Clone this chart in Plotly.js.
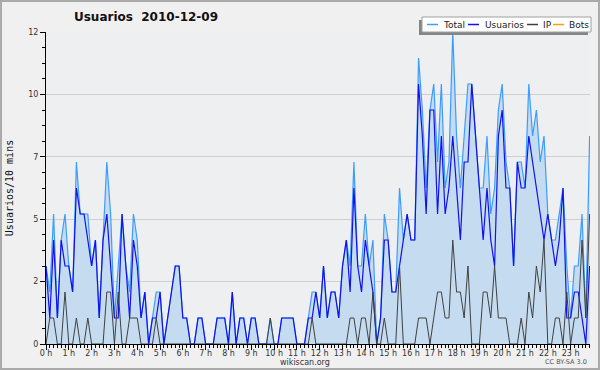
<!DOCTYPE html>
<html><head><meta charset="utf-8">
<script src="https://cdn.plot.ly/plotly-3.0.1.min.js"></script>
<style>html,body{margin:0;padding:0;background:#f0f0f0}#chart{width:600px;height:370px}</style>
</head><body><div id="chart"></div>
<script>
// 10-minute slots, 2010-12-09
const usuarios = [3,1,4,1,4,3,3,2,6,5,5,4,3,4,1,4,5,3,1,1,5,3,1,4,3,1,2,0,1,1,2,0,1,2,3,3,1,1,0,0,1,1,0,0,0,1,1,1,0,2,0,1,1,0,1,1,0,0,0,0,0,0,1,1,1,1,0,0,0,1,1,2,1,3,1,2,2,1,3,4,2,6,3,2,4,3,2,0,1,4,4,2,2,3,4,5,4,4,10,8,5,9,9,5,8,5,6,8,6,4,7,7,10,8,6,4,6,4,3,8,9,6,6,3,7,6,6,8,7,6,5,4,5,4,3,4,6,1,1,2,2,1,0,3];
const ip = [0,1,1,0,0,2,0,0,1,0,0,1,0,0,0,0,2,2,0,2,0,0,1,1,1,0,0,0,0,1,0,0,0,0,0,0,0,0,0,0,0,0,0,0,0,0,0,0,0,0,0,0,0,0,0,0,0,0,0,1,0,0,0,0,0,0,0,0,0,0,1,0,0,0,0,0,0,0,0,0,1,1,0,1,1,0,2,0,0,1,0,0,0,3,0,0,0,0,1,1,1,0,1,2,2,1,1,4,2,2,1,3,0,0,0,2,2,1,3,1,1,1,0,0,0,1,0,2,1,3,2,4,0,0,1,1,0,2,0,1,1,4,1,5];
const total = [3,2,5,1,4,5,3,2,7,5,5,5,3,4,1,4,7,5,1,3,5,3,2,5,4,1,2,0,1,2,2,0,1,2,3,3,1,1,0,0,1,1,0,0,0,1,1,1,0,2,0,1,1,0,1,1,0,0,0,1,0,0,1,1,1,1,0,0,0,1,2,2,1,3,1,2,2,1,3,4,3,7,3,3,5,3,4,0,1,5,4,2,2,6,4,5,4,4,11,9,6,9,10,7,10,6,7,12,8,6,8,10,10,8,6,6,8,5,6,9,10,7,6,3,7,7,6,10,8,9,7,8,5,4,4,5,6,3,1,3,3,5,1,8];
const bots = [];
const hourLabels = ['0 h','1 h','2 h','3 h','4 h','5 h','6 h','7 h','8 h','9 h','10 h','11 h','12 h','13 h','14 h','15 h','16 h','17 h','18 h','19 h','20 h','21 h','22 h','23 h'];
const yTickVals = [0,2.4,4.8,7.2,9.6,12];
const yTickText = ['0','2','5','7','10','12'];
const seriesNames = ['Total','Usuarios','IP','Bots'];
const seriesColors = ['#3d9cff','#1010f0','#404040','#ffa200'];

const slots = usuarios.map((_, i) => i);
const hourTicks = hourLabels.map((_, k) => k * 6);

const W = 600, H = 370, L = 46, R = 10, T = 32, B = 26;
const pw = W - L - R, ph = H - T - B;
const px = x => (x - L) / pw;
const py = y => (H - B - y) / ph;

const FONT = 'DejaVu Sans, Verdana, sans-serif';

const traces = [
  {x: slots, y: total, name: seriesNames[0], type: 'scatter', mode: 'lines',
   line: {color: seriesColors[0], width: 1.2}, fill: 'tozeroy', fillcolor: '#c5dcf0'},
  {x: slots, y: usuarios, name: seriesNames[1], type: 'scatter', mode: 'lines',
   line: {color: seriesColors[1], width: 1.2}},
  {x: slots, y: ip, name: seriesNames[2], type: 'scatter', mode: 'lines',
   line: {color: seriesColors[2], width: 1}},
  {x: slots.slice(0, bots.length), y: bots, name: seriesNames[3], type: 'scatter', mode: 'lines',
   line: {color: seriesColors[3], width: 1}}
];

// custom compact legend
const legendShapes = [
  {type: 'rect', xref: 'paper', yref: 'paper', x0: px(419), x1: px(588), y0: py(20), y1: py(35),
   fillcolor: '#858585', line: {width: 0}, layer: 'above'},
  {type: 'rect', xref: 'paper', yref: 'paper', x0: px(422), x1: px(591), y0: py(17), y1: py(32),
   fillcolor: '#ffffff', line: {color: '#a0a0a0', width: 1}, layer: 'above'}
];
const legendItems = [[427, 441], [468, 483], [527, 541], [553, 567]];
const legendAnn = [];
legendItems.forEach(([sx, tx], k) => {
  legendShapes.push({type: 'line', xref: 'paper', yref: 'paper', x0: px(sx), x1: px(sx + 11),
    y0: py(24.5), y1: py(24.5), line: {color: seriesColors[k], width: 1.5}, layer: 'above'});
  legendAnn.push({xref: 'paper', yref: 'paper', x: px(tx), y: py(24.5), xanchor: 'left', yanchor: 'middle',
    text: seriesNames[k], showarrow: false, font: {family: FONT, size: 9, color: '#222'}});
});

const borderShape = {type: 'rect', xref: 'paper', yref: 'paper', x0: px(1), x1: px(599), y0: py(1), y1: py(369),
  line: {color: '#aaaaaa', width: 2}, layer: 'below'};

const layout = {
  width: W, height: H,
  margin: {l: L, r: R, t: T, b: B, pad: 0},
  paper_bgcolor: '#f0f0f0', plot_bgcolor: '#edeff1',
  showlegend: false, hovermode: false,
  title: {text: '<b>Usuarios\u00a0 2010-12-09</b>', font: {family: FONT, size: 12, color: '#111'},
    x: 146 / W, xref: 'container', xanchor: 'center', y: 1 - 17 / H, yref: 'container', yanchor: 'middle'},
  xaxis: {range: [0, 143.1], tickmode: 'array', tickvals: hourTicks, ticktext: hourLabels,
    ticks: 'outside', ticklen: 5, tickcolor: '#000', tickwidth: 1, ticklabelstandoff: -4,
    showline: true, linecolor: '#000', linewidth: 1, showgrid: false, zeroline: false,
    tickfont: {family: FONT, size: 8, color: '#333'},
    minor: {dtick: 1, tick0: 0, ticks: 'outside', ticklen: 3, tickcolor: '#000', showgrid: false}},
  yaxis: {range: [0, 12], tickmode: 'array', tickvals: yTickVals, ticktext: yTickText,
    ticks: 'outside', ticklen: 5, tickcolor: '#000', tickwidth: 1,
    showline: true, linecolor: '#000', linewidth: 1, showgrid: true, gridcolor: '#cfcfcf', zeroline: false,
    tickfont: {family: FONT, size: 8, color: '#333'},
    minor: {dtick: 0.6, tick0: 0, ticks: 'outside', ticklen: 3, tickcolor: '#000', showgrid: false},
    title: {text: 'Usuarios/10 mins', font: {family: 'DejaVu Sans Mono', size: 10, color: '#111'}, standoff: 12}},
  shapes: [borderShape].concat(legendShapes),
  annotations: legendAnn.concat([
    {xref: 'paper', yref: 'paper', x: px(305), y: py(362), xanchor: 'center', yanchor: 'middle',
     text: 'wikiscan.org', showarrow: false, font: {family: FONT, size: 8, color: '#333'}},
    {xref: 'paper', yref: 'paper', x: px(566), y: py(362), xanchor: 'center', yanchor: 'middle',
     text: 'CC BY-SA 3.0', showarrow: false, font: {family: FONT, size: 6.5, color: '#555'}}
  ])
};

Plotly.newPlot('chart', traces, layout, {displayModeBar: false, staticPlot: true});
</script></body></html>
